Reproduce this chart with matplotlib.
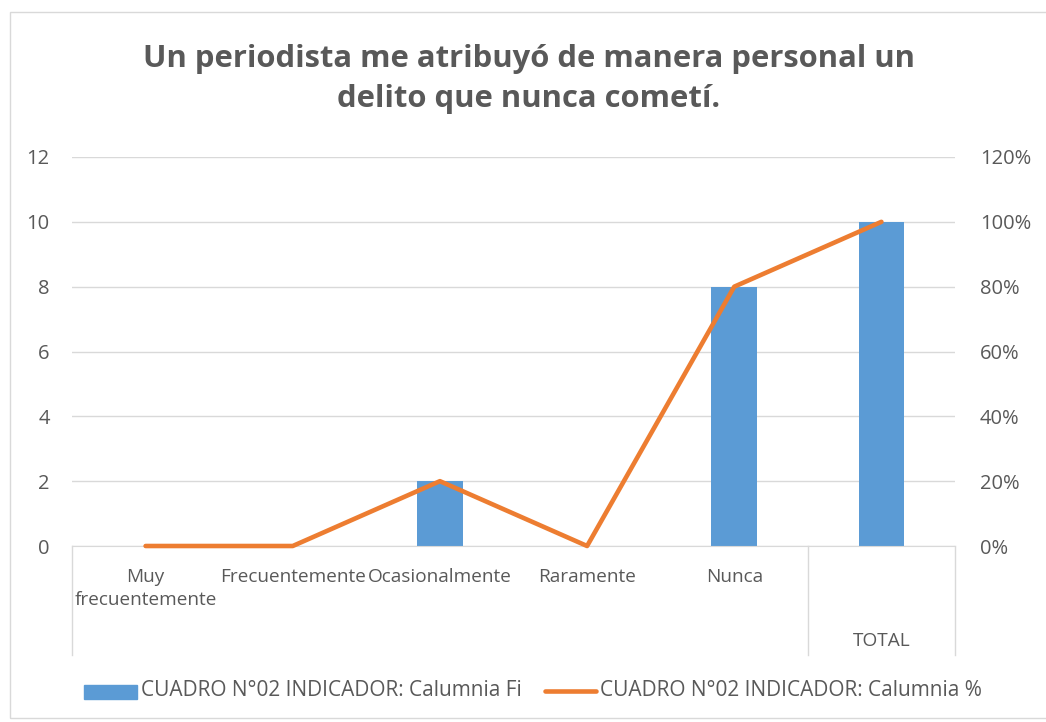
import matplotlib
matplotlib.use("Agg")
import matplotlib.pyplot as plt
from matplotlib.patches import Rectangle
from matplotlib.ticker import FuncFormatter
from matplotlib.transforms import blended_transform_factory


categories = ["Muy\nfrecuentemente", "Frecuentemente", "Ocasionalmente", "Raramente", "Nunca", "TOTAL"]
fi_values = [0, 0, 2, 0, 8, 10]
pct_values = [0.0, 0.0, 0.20, 0.0, 0.80, 1.00]
left_ticks = [0, 2, 4, 6, 8, 10, 12]
right_ticks = [0, 0.2, 0.4, 0.6, 0.8, 1.0, 1.2]

title = "Un periodista me atribuyó de manera personal un\ndelito que nunca cometí."
bar_label = "CUADRO N°02 INDICADOR: Calumnia Fi"
line_label = "CUADRO N°02 INDICADOR: Calumnia %"

BLUE = "#5B9BD5"
ORANGE = "#ED7D31"
TEXT = "#595959"
GRID = "#D9D9D9"

plt.rcParams["font.family"] = ["Open Sans", "DejaVu Sans"]

W, H = 1046, 722
fig = plt.figure(figsize=(W / 100, H / 100), dpi=100)

# chart border
fig.patches.append(Rectangle((10 / W, 1 - 718 / H), (1060 - 10) / W, (718 - 12) / H,
                             transform=fig.transFigure, fill=False, edgecolor=GRID, lw=1))

x0, x1, ytop, ybot = 72, 955, 157, 546
ax = fig.add_axes([x0 / W, 1 - ybot / H, (x1 - x0) / W, (ybot - ytop) / H])
ax2 = ax.twinx()

xs = list(range(len(categories)))
ax.bar(xs, fi_values, width=0.31, color=BLUE, zorder=2)
ax2.plot(xs, pct_values, color=ORANGE, lw=3.3, solid_capstyle="round", zorder=3, clip_on=False)

ax.set_xlim(-0.5, len(categories) - 0.5)
ax.set_ylim(0, 12)
ax2.set_ylim(0, 1.2)
ax.set_yticks(left_ticks)
ax2.set_yticks(right_ticks)
ax2.yaxis.set_major_formatter(FuncFormatter(lambda v, p: f"{v * 100:.0f}%"))

ax.yaxis.grid(True, color=GRID, lw=1)
ax.set_axisbelow(True)
ax2.set_zorder(ax.get_zorder() + 1)
ax2.patch.set_visible(False)

for a in (ax, ax2):
    for s in a.spines.values():
        s.set_visible(False)
    a.tick_params(axis="y", length=0, labelsize=14.5, labelcolor=TEXT)
ax.tick_params(axis="y", pad=16)
ax2.tick_params(axis="y", pad=18)
ax.spines["bottom"].set_visible(True)
ax.spines["bottom"].set_color(GRID)

tick_labels = categories[:-1] + [""]
ax.set_xticks(xs)
ax.set_xticklabels(tick_labels, fontsize=13.7, color=TEXT, linespacing=1.42)
ax.tick_params(axis="x", length=0, pad=15.5)

# multi-level category separators
trans = blended_transform_factory(ax.transData, ax.transAxes)
depth = -(655 - ybot) / (ybot - ytop)
for xv in (-0.5, len(categories) - 1.5, len(categories) - 0.5):
    ax.plot([xv, xv], [0, depth], color=GRID, lw=1, transform=trans, clip_on=False)
ax.text(xs[-1], -(641 - ybot) / (ybot - ytop), categories[-1], transform=trans,
        ha="center", va="center", fontsize=13.7, color=TEXT)

fig.text(529 / W, 1 - 79 / H, title, ha="center", va="center", fontsize=22.3,
         fontweight="bold", color=TEXT, linespacing=1.45)

# legend
ly = 1 - 691 / H
fig.patches.append(Rectangle((84 / W, 1 - 699 / H), 53 / W, 14 / H,
                             transform=fig.transFigure, color=BLUE))
fig.text(141 / W, ly, bar_label, ha="left", va="center", fontsize=15, color=TEXT)
fig.lines.append(plt.Line2D([545 / W, 596 / W], [ly, ly], transform=fig.transFigure,
                            color=ORANGE, lw=3.3, solid_capstyle="round"))
fig.text(600 / W, ly, line_label, ha="left", va="center", fontsize=15, color=TEXT)

fig.savefig("out.png", dpi=100)
